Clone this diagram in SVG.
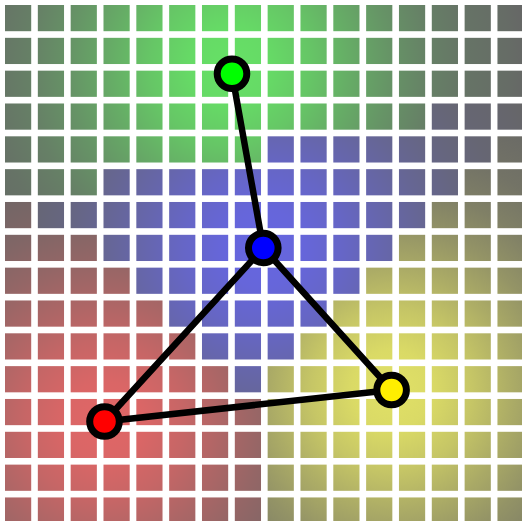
<svg xmlns="http://www.w3.org/2000/svg" width="522" height="521" viewBox="0 0 522 521">
<style>
.g{fill:url(#gg)}.b{fill:url(#gb)}.r{fill:url(#gr)}.y{fill:url(#gy)}
.edge{stroke:#000;stroke-width:6.5;stroke-linecap:round;fill:none}
.node{stroke:#000;stroke-width:7}
</style>
<defs>
<radialGradient id="gg" gradientUnits="userSpaceOnUse" cx="230" cy="66" r="300">
<stop offset="0" stop-color="#66e166"/><stop offset="0.133" stop-color="#66da66"/><stop offset="0.267" stop-color="#66c666"/><stop offset="0.4" stop-color="#66ac66"/><stop offset="0.533" stop-color="#669466"/><stop offset="0.667" stop-color="#668066"/><stop offset="0.8" stop-color="#667366"/><stop offset="0.933" stop-color="#666c66"/><stop offset="1" stop-color="#666666"/>
</radialGradient>
<radialGradient id="gb" gradientUnits="userSpaceOnUse" cx="263.3" cy="248" r="300">
<stop offset="0" stop-color="#6666e1"/><stop offset="0.133" stop-color="#6666da"/><stop offset="0.267" stop-color="#6666c6"/><stop offset="0.4" stop-color="#6666ac"/><stop offset="0.533" stop-color="#666694"/><stop offset="0.667" stop-color="#666680"/><stop offset="0.8" stop-color="#666673"/><stop offset="0.933" stop-color="#66666c"/><stop offset="1" stop-color="#666666"/>
</radialGradient>
<radialGradient id="gr" gradientUnits="userSpaceOnUse" cx="104.5" cy="421.5" r="300">
<stop offset="0" stop-color="#e16666"/><stop offset="0.133" stop-color="#da6666"/><stop offset="0.267" stop-color="#c66666"/><stop offset="0.4" stop-color="#ac6666"/><stop offset="0.533" stop-color="#946666"/><stop offset="0.667" stop-color="#806666"/><stop offset="0.8" stop-color="#736666"/><stop offset="0.933" stop-color="#6c6666"/><stop offset="1" stop-color="#666666"/>
</radialGradient>
<radialGradient id="gy" gradientUnits="userSpaceOnUse" cx="391.6" cy="390" r="300">
<stop offset="0" stop-color="#e1e166"/><stop offset="0.133" stop-color="#dada66"/><stop offset="0.267" stop-color="#c6c666"/><stop offset="0.4" stop-color="#acac66"/><stop offset="0.533" stop-color="#949466"/><stop offset="0.667" stop-color="#808066"/><stop offset="0.8" stop-color="#737366"/><stop offset="0.933" stop-color="#6c6c66"/><stop offset="1" stop-color="#666666"/>
</radialGradient>
</defs>
<rect width="522" height="521" fill="#fff"/>
<g id="grid">
<rect x="5" y="5" width="26.2" height="26.2" class="g"/><rect x="37.83" y="5" width="26.2" height="26.2" class="g"/><rect x="70.66" y="5" width="26.2" height="26.2" class="g"/><rect x="103.49" y="5" width="26.2" height="26.2" class="g"/><rect x="136.32" y="5" width="26.2" height="26.2" class="g"/><rect x="169.15" y="5" width="26.2" height="26.2" class="g"/><rect x="201.98" y="5" width="26.2" height="26.2" class="g"/><rect x="234.81" y="5" width="26.2" height="26.2" class="g"/><rect x="267.64" y="5" width="26.2" height="26.2" class="g"/><rect x="300.47" y="5" width="26.2" height="26.2" class="g"/><rect x="333.3" y="5" width="26.2" height="26.2" class="g"/><rect x="366.13" y="5" width="26.2" height="26.2" class="g"/><rect x="398.96" y="5" width="26.2" height="26.2" class="g"/><rect x="431.79" y="5" width="26.2" height="26.2" class="g"/><rect x="464.62" y="5" width="26.2" height="26.2" class="g"/><rect x="497.45" y="5" width="26.2" height="26.2" class="g"/>
<rect x="5" y="37.83" width="26.2" height="26.2" class="g"/><rect x="37.83" y="37.83" width="26.2" height="26.2" class="g"/><rect x="70.66" y="37.83" width="26.2" height="26.2" class="g"/><rect x="103.49" y="37.83" width="26.2" height="26.2" class="g"/><rect x="136.32" y="37.83" width="26.2" height="26.2" class="g"/><rect x="169.15" y="37.83" width="26.2" height="26.2" class="g"/><rect x="201.98" y="37.83" width="26.2" height="26.2" class="g"/><rect x="234.81" y="37.83" width="26.2" height="26.2" class="g"/><rect x="267.64" y="37.83" width="26.2" height="26.2" class="g"/><rect x="300.47" y="37.83" width="26.2" height="26.2" class="g"/><rect x="333.3" y="37.83" width="26.2" height="26.2" class="g"/><rect x="366.13" y="37.83" width="26.2" height="26.2" class="g"/><rect x="398.96" y="37.83" width="26.2" height="26.2" class="g"/><rect x="431.79" y="37.83" width="26.2" height="26.2" class="g"/><rect x="464.62" y="37.83" width="26.2" height="26.2" class="g"/><rect x="497.45" y="37.83" width="26.2" height="26.2" class="g"/>
<rect x="5" y="70.66" width="26.2" height="26.2" class="g"/><rect x="37.83" y="70.66" width="26.2" height="26.2" class="g"/><rect x="70.66" y="70.66" width="26.2" height="26.2" class="g"/><rect x="103.49" y="70.66" width="26.2" height="26.2" class="g"/><rect x="136.32" y="70.66" width="26.2" height="26.2" class="g"/><rect x="169.15" y="70.66" width="26.2" height="26.2" class="g"/><rect x="201.98" y="70.66" width="26.2" height="26.2" class="g"/><rect x="234.81" y="70.66" width="26.2" height="26.2" class="g"/><rect x="267.64" y="70.66" width="26.2" height="26.2" class="g"/><rect x="300.47" y="70.66" width="26.2" height="26.2" class="g"/><rect x="333.3" y="70.66" width="26.2" height="26.2" class="g"/><rect x="366.13" y="70.66" width="26.2" height="26.2" class="g"/><rect x="398.96" y="70.66" width="26.2" height="26.2" class="g"/><rect x="431.79" y="70.66" width="26.2" height="26.2" class="g"/><rect x="464.62" y="70.66" width="26.2" height="26.2" class="g"/><rect x="497.45" y="70.66" width="26.2" height="26.2" class="g"/>
<rect x="5" y="103.49" width="26.2" height="26.2" class="g"/><rect x="37.83" y="103.49" width="26.2" height="26.2" class="g"/><rect x="70.66" y="103.49" width="26.2" height="26.2" class="g"/><rect x="103.49" y="103.49" width="26.2" height="26.2" class="g"/><rect x="136.32" y="103.49" width="26.2" height="26.2" class="g"/><rect x="169.15" y="103.49" width="26.2" height="26.2" class="g"/><rect x="201.98" y="103.49" width="26.2" height="26.2" class="g"/><rect x="234.81" y="103.49" width="26.2" height="26.2" class="g"/><rect x="267.64" y="103.49" width="26.2" height="26.2" class="g"/><rect x="300.47" y="103.49" width="26.2" height="26.2" class="g"/><rect x="333.3" y="103.49" width="26.2" height="26.2" class="g"/><rect x="366.13" y="103.49" width="26.2" height="26.2" class="g"/><rect x="398.96" y="103.49" width="26.2" height="26.2" class="g"/><rect x="431.79" y="103.49" width="26.2" height="26.2" class="b"/><rect x="464.62" y="103.49" width="26.2" height="26.2" class="b"/><rect x="497.45" y="103.49" width="26.2" height="26.2" class="b"/>
<rect x="5" y="136.32" width="26.2" height="26.2" class="g"/><rect x="37.83" y="136.32" width="26.2" height="26.2" class="g"/><rect x="70.66" y="136.32" width="26.2" height="26.2" class="g"/><rect x="103.49" y="136.32" width="26.2" height="26.2" class="g"/><rect x="136.32" y="136.32" width="26.2" height="26.2" class="g"/><rect x="169.15" y="136.32" width="26.2" height="26.2" class="g"/><rect x="201.98" y="136.32" width="26.2" height="26.2" class="g"/><rect x="234.81" y="136.32" width="26.2" height="26.2" class="g"/><rect x="267.64" y="136.32" width="26.2" height="26.2" class="b"/><rect x="300.47" y="136.32" width="26.2" height="26.2" class="b"/><rect x="333.3" y="136.32" width="26.2" height="26.2" class="b"/><rect x="366.13" y="136.32" width="26.2" height="26.2" class="b"/><rect x="398.96" y="136.32" width="26.2" height="26.2" class="b"/><rect x="431.79" y="136.32" width="26.2" height="26.2" class="b"/><rect x="464.62" y="136.32" width="26.2" height="26.2" class="b"/><rect x="497.45" y="136.32" width="26.2" height="26.2" class="y"/>
<rect x="5" y="169.15" width="26.2" height="26.2" class="g"/><rect x="37.83" y="169.15" width="26.2" height="26.2" class="g"/><rect x="70.66" y="169.15" width="26.2" height="26.2" class="g"/><rect x="103.49" y="169.15" width="26.2" height="26.2" class="b"/><rect x="136.32" y="169.15" width="26.2" height="26.2" class="b"/><rect x="169.15" y="169.15" width="26.2" height="26.2" class="b"/><rect x="201.98" y="169.15" width="26.2" height="26.2" class="b"/><rect x="234.81" y="169.15" width="26.2" height="26.2" class="b"/><rect x="267.64" y="169.15" width="26.2" height="26.2" class="b"/><rect x="300.47" y="169.15" width="26.2" height="26.2" class="b"/><rect x="333.3" y="169.15" width="26.2" height="26.2" class="b"/><rect x="366.13" y="169.15" width="26.2" height="26.2" class="b"/><rect x="398.96" y="169.15" width="26.2" height="26.2" class="b"/><rect x="431.79" y="169.15" width="26.2" height="26.2" class="b"/><rect x="464.62" y="169.15" width="26.2" height="26.2" class="y"/><rect x="497.45" y="169.15" width="26.2" height="26.2" class="y"/>
<rect x="5" y="201.98" width="26.2" height="26.2" class="r"/><rect x="37.83" y="201.98" width="26.2" height="26.2" class="b"/><rect x="70.66" y="201.98" width="26.2" height="26.2" class="b"/><rect x="103.49" y="201.98" width="26.2" height="26.2" class="b"/><rect x="136.32" y="201.98" width="26.2" height="26.2" class="b"/><rect x="169.15" y="201.98" width="26.2" height="26.2" class="b"/><rect x="201.98" y="201.98" width="26.2" height="26.2" class="b"/><rect x="234.81" y="201.98" width="26.2" height="26.2" class="b"/><rect x="267.64" y="201.98" width="26.2" height="26.2" class="b"/><rect x="300.47" y="201.98" width="26.2" height="26.2" class="b"/><rect x="333.3" y="201.98" width="26.2" height="26.2" class="b"/><rect x="366.13" y="201.98" width="26.2" height="26.2" class="b"/><rect x="398.96" y="201.98" width="26.2" height="26.2" class="b"/><rect x="431.79" y="201.98" width="26.2" height="26.2" class="y"/><rect x="464.62" y="201.98" width="26.2" height="26.2" class="y"/><rect x="497.45" y="201.98" width="26.2" height="26.2" class="y"/>
<rect x="5" y="234.81" width="26.2" height="26.2" class="r"/><rect x="37.83" y="234.81" width="26.2" height="26.2" class="r"/><rect x="70.66" y="234.81" width="26.2" height="26.2" class="r"/><rect x="103.49" y="234.81" width="26.2" height="26.2" class="b"/><rect x="136.32" y="234.81" width="26.2" height="26.2" class="b"/><rect x="169.15" y="234.81" width="26.2" height="26.2" class="b"/><rect x="201.98" y="234.81" width="26.2" height="26.2" class="b"/><rect x="234.81" y="234.81" width="26.2" height="26.2" class="b"/><rect x="267.64" y="234.81" width="26.2" height="26.2" class="b"/><rect x="300.47" y="234.81" width="26.2" height="26.2" class="b"/><rect x="333.3" y="234.81" width="26.2" height="26.2" class="b"/><rect x="366.13" y="234.81" width="26.2" height="26.2" class="b"/><rect x="398.96" y="234.81" width="26.2" height="26.2" class="y"/><rect x="431.79" y="234.81" width="26.2" height="26.2" class="y"/><rect x="464.62" y="234.81" width="26.2" height="26.2" class="y"/><rect x="497.45" y="234.81" width="26.2" height="26.2" class="y"/>
<rect x="5" y="267.64" width="26.2" height="26.2" class="r"/><rect x="37.83" y="267.64" width="26.2" height="26.2" class="r"/><rect x="70.66" y="267.64" width="26.2" height="26.2" class="r"/><rect x="103.49" y="267.64" width="26.2" height="26.2" class="r"/><rect x="136.32" y="267.64" width="26.2" height="26.2" class="b"/><rect x="169.15" y="267.64" width="26.2" height="26.2" class="b"/><rect x="201.98" y="267.64" width="26.2" height="26.2" class="b"/><rect x="234.81" y="267.64" width="26.2" height="26.2" class="b"/><rect x="267.64" y="267.64" width="26.2" height="26.2" class="b"/><rect x="300.47" y="267.64" width="26.2" height="26.2" class="b"/><rect x="333.3" y="267.64" width="26.2" height="26.2" class="b"/><rect x="366.13" y="267.64" width="26.2" height="26.2" class="y"/><rect x="398.96" y="267.64" width="26.2" height="26.2" class="y"/><rect x="431.79" y="267.64" width="26.2" height="26.2" class="y"/><rect x="464.62" y="267.64" width="26.2" height="26.2" class="y"/><rect x="497.45" y="267.64" width="26.2" height="26.2" class="y"/>
<rect x="5" y="300.47" width="26.2" height="26.2" class="r"/><rect x="37.83" y="300.47" width="26.2" height="26.2" class="r"/><rect x="70.66" y="300.47" width="26.2" height="26.2" class="r"/><rect x="103.49" y="300.47" width="26.2" height="26.2" class="r"/><rect x="136.32" y="300.47" width="26.2" height="26.2" class="r"/><rect x="169.15" y="300.47" width="26.2" height="26.2" class="b"/><rect x="201.98" y="300.47" width="26.2" height="26.2" class="b"/><rect x="234.81" y="300.47" width="26.2" height="26.2" class="b"/><rect x="267.64" y="300.47" width="26.2" height="26.2" class="b"/><rect x="300.47" y="300.47" width="26.2" height="26.2" class="b"/><rect x="333.3" y="300.47" width="26.2" height="26.2" class="y"/><rect x="366.13" y="300.47" width="26.2" height="26.2" class="y"/><rect x="398.96" y="300.47" width="26.2" height="26.2" class="y"/><rect x="431.79" y="300.47" width="26.2" height="26.2" class="y"/><rect x="464.62" y="300.47" width="26.2" height="26.2" class="y"/><rect x="497.45" y="300.47" width="26.2" height="26.2" class="y"/>
<rect x="5" y="333.3" width="26.2" height="26.2" class="r"/><rect x="37.83" y="333.3" width="26.2" height="26.2" class="r"/><rect x="70.66" y="333.3" width="26.2" height="26.2" class="r"/><rect x="103.49" y="333.3" width="26.2" height="26.2" class="r"/><rect x="136.32" y="333.3" width="26.2" height="26.2" class="r"/><rect x="169.15" y="333.3" width="26.2" height="26.2" class="r"/><rect x="201.98" y="333.3" width="26.2" height="26.2" class="b"/><rect x="234.81" y="333.3" width="26.2" height="26.2" class="b"/><rect x="267.64" y="333.3" width="26.2" height="26.2" class="b"/><rect x="300.47" y="333.3" width="26.2" height="26.2" class="y"/><rect x="333.3" y="333.3" width="26.2" height="26.2" class="y"/><rect x="366.13" y="333.3" width="26.2" height="26.2" class="y"/><rect x="398.96" y="333.3" width="26.2" height="26.2" class="y"/><rect x="431.79" y="333.3" width="26.2" height="26.2" class="y"/><rect x="464.62" y="333.3" width="26.2" height="26.2" class="y"/><rect x="497.45" y="333.3" width="26.2" height="26.2" class="y"/>
<rect x="5" y="366.13" width="26.2" height="26.2" class="r"/><rect x="37.83" y="366.13" width="26.2" height="26.2" class="r"/><rect x="70.66" y="366.13" width="26.2" height="26.2" class="r"/><rect x="103.49" y="366.13" width="26.2" height="26.2" class="r"/><rect x="136.32" y="366.13" width="26.2" height="26.2" class="r"/><rect x="169.15" y="366.13" width="26.2" height="26.2" class="r"/><rect x="201.98" y="366.13" width="26.2" height="26.2" class="r"/><rect x="234.81" y="366.13" width="26.2" height="26.2" class="b"/><rect x="267.64" y="366.13" width="26.2" height="26.2" class="y"/><rect x="300.47" y="366.13" width="26.2" height="26.2" class="y"/><rect x="333.3" y="366.13" width="26.2" height="26.2" class="y"/><rect x="366.13" y="366.13" width="26.2" height="26.2" class="y"/><rect x="398.96" y="366.13" width="26.2" height="26.2" class="y"/><rect x="431.79" y="366.13" width="26.2" height="26.2" class="y"/><rect x="464.62" y="366.13" width="26.2" height="26.2" class="y"/><rect x="497.45" y="366.13" width="26.2" height="26.2" class="y"/>
<rect x="5" y="398.96" width="26.2" height="26.2" class="r"/><rect x="37.83" y="398.96" width="26.2" height="26.2" class="r"/><rect x="70.66" y="398.96" width="26.2" height="26.2" class="r"/><rect x="103.49" y="398.96" width="26.2" height="26.2" class="r"/><rect x="136.32" y="398.96" width="26.2" height="26.2" class="r"/><rect x="169.15" y="398.96" width="26.2" height="26.2" class="r"/><rect x="201.98" y="398.96" width="26.2" height="26.2" class="r"/><rect x="234.81" y="398.96" width="26.2" height="26.2" class="r"/><rect x="267.64" y="398.96" width="26.2" height="26.2" class="y"/><rect x="300.47" y="398.96" width="26.2" height="26.2" class="y"/><rect x="333.3" y="398.96" width="26.2" height="26.2" class="y"/><rect x="366.13" y="398.96" width="26.2" height="26.2" class="y"/><rect x="398.96" y="398.96" width="26.2" height="26.2" class="y"/><rect x="431.79" y="398.96" width="26.2" height="26.2" class="y"/><rect x="464.62" y="398.96" width="26.2" height="26.2" class="y"/><rect x="497.45" y="398.96" width="26.2" height="26.2" class="y"/>
<rect x="5" y="431.79" width="26.2" height="26.2" class="r"/><rect x="37.83" y="431.79" width="26.2" height="26.2" class="r"/><rect x="70.66" y="431.79" width="26.2" height="26.2" class="r"/><rect x="103.49" y="431.79" width="26.2" height="26.2" class="r"/><rect x="136.32" y="431.79" width="26.2" height="26.2" class="r"/><rect x="169.15" y="431.79" width="26.2" height="26.2" class="r"/><rect x="201.98" y="431.79" width="26.2" height="26.2" class="r"/><rect x="234.81" y="431.79" width="26.2" height="26.2" class="r"/><rect x="267.64" y="431.79" width="26.2" height="26.2" class="y"/><rect x="300.47" y="431.79" width="26.2" height="26.2" class="y"/><rect x="333.3" y="431.79" width="26.2" height="26.2" class="y"/><rect x="366.13" y="431.79" width="26.2" height="26.2" class="y"/><rect x="398.96" y="431.79" width="26.2" height="26.2" class="y"/><rect x="431.79" y="431.79" width="26.2" height="26.2" class="y"/><rect x="464.62" y="431.79" width="26.2" height="26.2" class="y"/><rect x="497.45" y="431.79" width="26.2" height="26.2" class="y"/>
<rect x="5" y="464.62" width="26.2" height="26.2" class="r"/><rect x="37.83" y="464.62" width="26.2" height="26.2" class="r"/><rect x="70.66" y="464.62" width="26.2" height="26.2" class="r"/><rect x="103.49" y="464.62" width="26.2" height="26.2" class="r"/><rect x="136.32" y="464.62" width="26.2" height="26.2" class="r"/><rect x="169.15" y="464.62" width="26.2" height="26.2" class="r"/><rect x="201.98" y="464.62" width="26.2" height="26.2" class="r"/><rect x="234.81" y="464.62" width="26.2" height="26.2" class="r"/><rect x="267.64" y="464.62" width="26.2" height="26.2" class="y"/><rect x="300.47" y="464.62" width="26.2" height="26.2" class="y"/><rect x="333.3" y="464.62" width="26.2" height="26.2" class="y"/><rect x="366.13" y="464.62" width="26.2" height="26.2" class="y"/><rect x="398.96" y="464.62" width="26.2" height="26.2" class="y"/><rect x="431.79" y="464.62" width="26.2" height="26.2" class="y"/><rect x="464.62" y="464.62" width="26.2" height="26.2" class="y"/><rect x="497.45" y="464.62" width="26.2" height="26.2" class="y"/>
<rect x="5" y="497.45" width="26.2" height="26.2" class="r"/><rect x="37.83" y="497.45" width="26.2" height="26.2" class="r"/><rect x="70.66" y="497.45" width="26.2" height="26.2" class="r"/><rect x="103.49" y="497.45" width="26.2" height="26.2" class="r"/><rect x="136.32" y="497.45" width="26.2" height="26.2" class="r"/><rect x="169.15" y="497.45" width="26.2" height="26.2" class="r"/><rect x="201.98" y="497.45" width="26.2" height="26.2" class="r"/><rect x="234.81" y="497.45" width="26.2" height="26.2" class="r"/><rect x="267.64" y="497.45" width="26.2" height="26.2" class="y"/><rect x="300.47" y="497.45" width="26.2" height="26.2" class="y"/><rect x="333.3" y="497.45" width="26.2" height="26.2" class="y"/><rect x="366.13" y="497.45" width="26.2" height="26.2" class="y"/><rect x="398.96" y="497.45" width="26.2" height="26.2" class="y"/><rect x="431.79" y="497.45" width="26.2" height="26.2" class="y"/><rect x="464.62" y="497.45" width="26.2" height="26.2" class="y"/><rect x="497.45" y="497.45" width="26.2" height="26.2" class="y"/>
</g>
<g id="edges">
<line class="edge" x1="232" y1="73.7" x2="263.3" y2="248"/>
<line class="edge" x1="263.3" y1="248" x2="104.5" y2="421.5"/>
<line class="edge" x1="263.3" y1="248" x2="391.6" y2="390"/>
<line class="edge" x1="104.5" y1="421.5" x2="391.6" y2="390"/>
</g>
<g id="node-green"><circle class="node" cx="232" cy="73.7" r="14.8" fill="#00ff00"/></g>
<g id="node-blue"><circle class="node" cx="263.3" cy="248" r="14.8" fill="#0000ff"/></g>
<g id="node-red"><circle class="node" cx="104.5" cy="421.5" r="14.8" fill="#ff0000"/></g>
<g id="node-yellow"><circle class="node" cx="391.6" cy="390" r="14.8" fill="#ffee00"/></g>
</svg>
